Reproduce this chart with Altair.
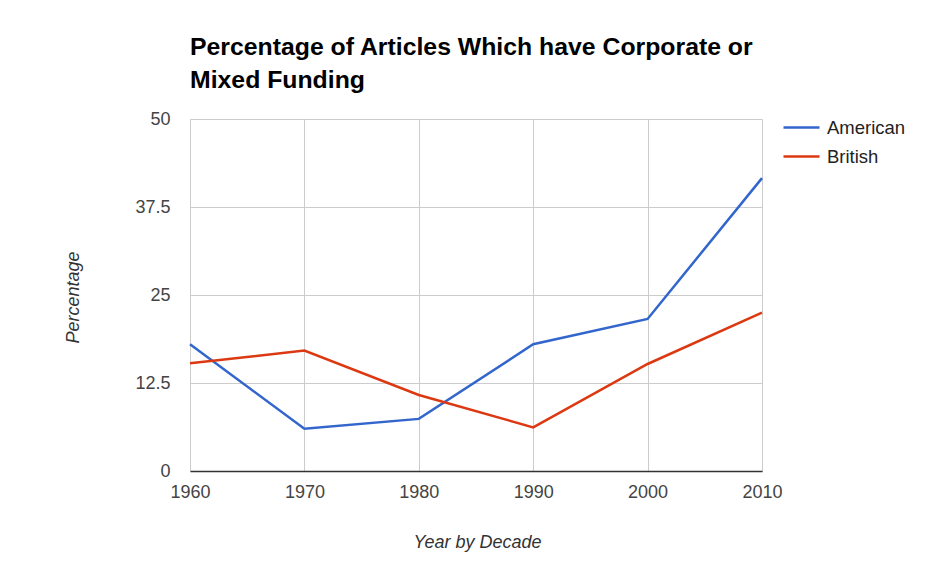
import altair as alt
import pandas as pd

years = [1960, 1970, 1980, 1990, 2000, 2010]
american = [18.0, 6.0, 7.4, 18.0, 21.6, 41.6]
british = [15.3, 17.1, 10.8, 6.2, 15.2, 22.5]
series_names = ["American", "British"]
series_colors = ["#3366cc", "#dc3912"]
y_ticks = [0, 12.5, 25, 37.5, 50]
title_lines = ["Percentage of Articles Which have Corporate or", "Mixed Funding"]

rows = []
for y, a, b in zip(years, american, british):
    rows.append({"Year": y, "Series": "American", "Value": a})
    rows.append({"Year": y, "Series": "British", "Value": b})
df = pd.DataFrame(rows)

FONT = "Liberation Sans"

chart = (
    alt.Chart(df)
    .mark_line(strokeWidth=2.5)
    .encode(
        x=alt.X(
            "Year:Q",
            scale=alt.Scale(domain=[1960, 2010], nice=False, zero=False),
            axis=alt.Axis(
                values=years,
                format="d",
                title="Year by Decade",
                titleFontStyle="italic",
                titleFontWeight="normal",
                titleFontSize=18,
                titleColor="#333333",
                titleX=287,
                titleY=71,
                titleBaseline="middle",
                titleAlign="center",
                labelFontSize=18,
                labelColor="#444444",
                labelPadding=12,
                ticks=False,
                domainColor="#333333",
                domainWidth=1.5,
                gridColor="#cccccc",
                labelFlush=False,
            ),
        ),
        y=alt.Y(
            "Value:Q",
            scale=alt.Scale(domain=[0, 50], nice=False),
            axis=alt.Axis(
                values=y_ticks,
                labelExpr="toString(datum.value)",
                title="Percentage",
                titleFontStyle="italic",
                titleFontWeight="normal",
                titleFontSize=18,
                titleColor="#333333",
                titleAngle=270,
                titleX=-117,
                titleY=178,
                titleBaseline="middle",
                titleAlign="center",
                labelFontSize=18,
                labelColor="#444444",
                labelPadding=20,
                ticks=False,
                domain=False,
                gridColor="#cccccc",
            ),
        ),
        color=alt.Color(
            "Series:N",
            scale=alt.Scale(domain=series_names, range=series_colors),
            legend=alt.Legend(
                title=None,
                orient="none",
                legendX=592,
                legendY=-11,
                symbolType="stroke",
                symbolSize=1296,
                symbolStrokeWidth=2.5,
                labelFontSize=18.5,
                labelColor="#222222",
                labelOffset=6,
                rowPadding=0,
                padding=0,
            ),
        ),
    )
    .properties(
        width=572,
        height=352,
        autosize=alt.AutoSizeParams(type="none"),
        padding={"left": 182, "top": 111, "right": 160, "bottom": 99},
        title=alt.TitleParams(
            text=title_lines,
            anchor="start",
            frame="group",
            fontSize=24.8,
            fontWeight="bold",
            color="#000000",
            lineHeight=33,
            offset=15,
        ),
    )
    .configure(font=FONT, background="white")
    .configure_view(stroke=None)
)

chart.save("out.html", embed_options={"renderer": "svg", "actions": False})
